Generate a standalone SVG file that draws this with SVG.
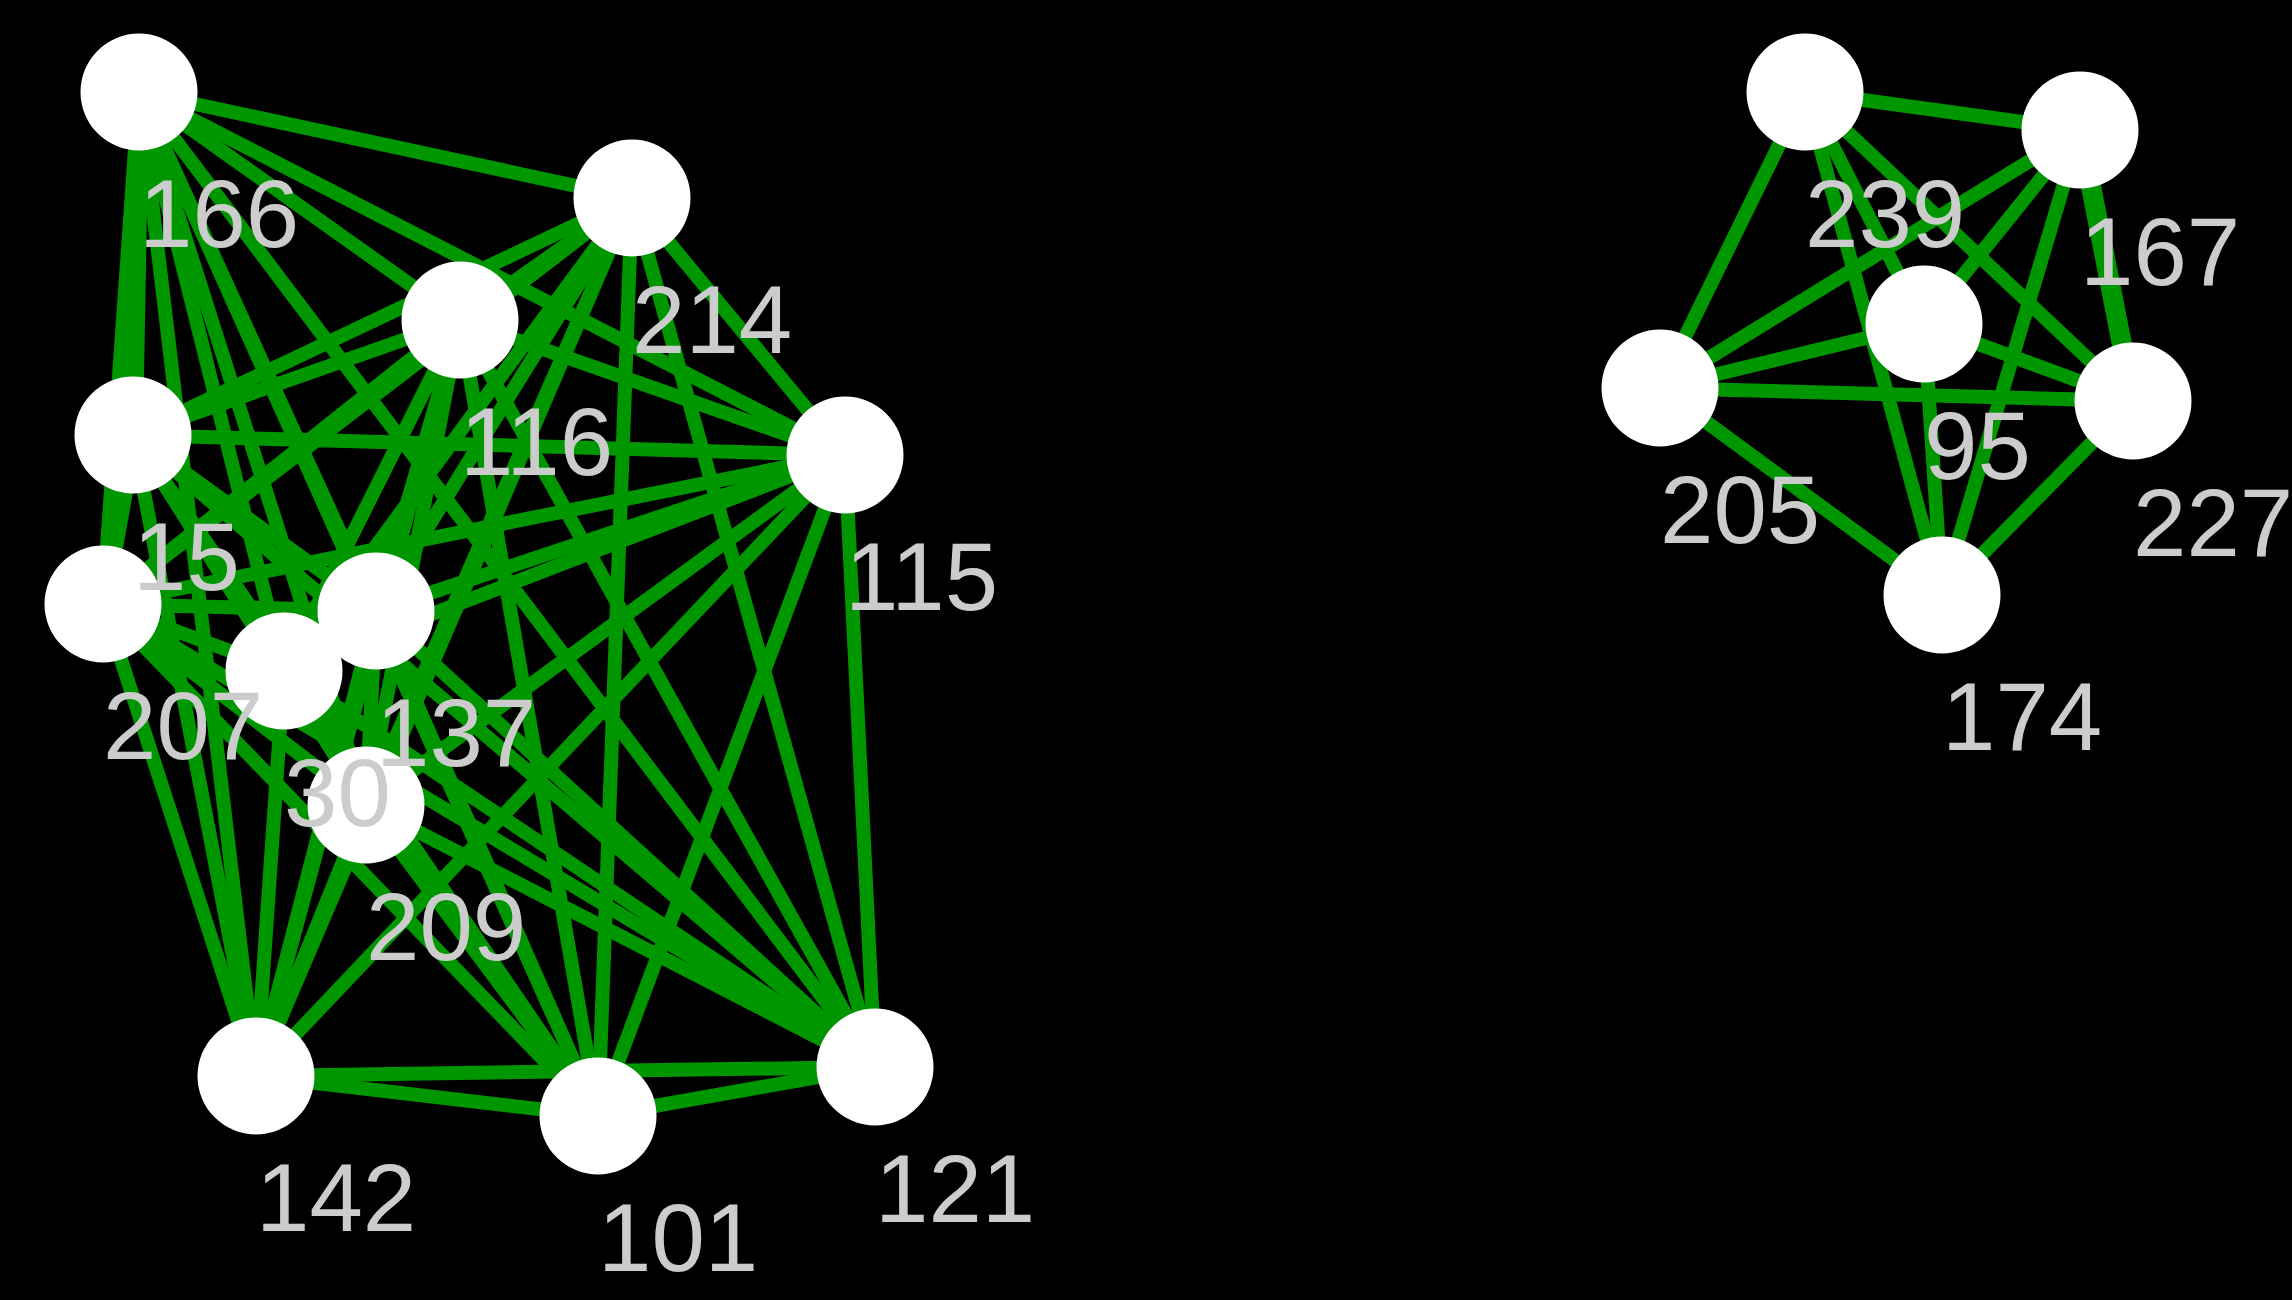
<svg xmlns="http://www.w3.org/2000/svg" width="2292" height="1300" viewBox="0 0 2292 1300">
<style>
.e{stroke:#009600;stroke-width:14;stroke-linecap:butt}
.w{stroke-width:20}
.n{fill:#ffffff}
.t{fill:#cccccc;font-family:"Liberation Sans",Arial,sans-serif;font-size:96px}
</style>
<rect width="2292" height="1300" fill="#000000"/>
<g id="edges">
<line class="e" x1="139" y1="92" x2="632" y2="198"/>
<line class="e" x1="139" y1="92" x2="460" y2="320"/>
<line class="e w" x1="139" y1="92" x2="133" y2="435"/>
<line class="e" x1="139" y1="92" x2="845" y2="455"/>
<line class="e" x1="139" y1="92" x2="103" y2="604"/>
<line class="e" x1="139" y1="92" x2="376" y2="611"/>
<line class="e" x1="139" y1="92" x2="284" y2="671"/>
<line class="e" x1="139" y1="92" x2="366" y2="805"/>
<line class="e" x1="139" y1="92" x2="256" y2="1076"/>
<line class="e" x1="139" y1="92" x2="598" y2="1116"/>
<line class="e" x1="139" y1="92" x2="875" y2="1067"/>
<line class="e" x1="632" y1="198" x2="460" y2="320"/>
<line class="e" x1="632" y1="198" x2="133" y2="435"/>
<line class="e" x1="632" y1="198" x2="845" y2="455"/>
<line class="e" x1="632" y1="198" x2="103" y2="604"/>
<line class="e" x1="632" y1="198" x2="376" y2="611"/>
<line class="e" x1="632" y1="198" x2="284" y2="671"/>
<line class="e" x1="632" y1="198" x2="366" y2="805"/>
<line class="e" x1="632" y1="198" x2="256" y2="1076"/>
<line class="e" x1="632" y1="198" x2="598" y2="1116"/>
<line class="e" x1="632" y1="198" x2="875" y2="1067"/>
<line class="e" x1="460" y1="320" x2="133" y2="435"/>
<line class="e" x1="460" y1="320" x2="845" y2="455"/>
<line class="e" x1="460" y1="320" x2="103" y2="604"/>
<line class="e" x1="460" y1="320" x2="376" y2="611"/>
<line class="e" x1="460" y1="320" x2="284" y2="671"/>
<line class="e" x1="460" y1="320" x2="366" y2="805"/>
<line class="e" x1="460" y1="320" x2="256" y2="1076"/>
<line class="e" x1="460" y1="320" x2="598" y2="1116"/>
<line class="e" x1="460" y1="320" x2="875" y2="1067"/>
<line class="e" x1="133" y1="435" x2="845" y2="455"/>
<line class="e w" x1="133" y1="435" x2="103" y2="604"/>
<line class="e" x1="133" y1="435" x2="376" y2="611"/>
<line class="e" x1="133" y1="435" x2="284" y2="671"/>
<line class="e" x1="133" y1="435" x2="366" y2="805"/>
<line class="e" x1="133" y1="435" x2="256" y2="1076"/>
<line class="e" x1="133" y1="435" x2="598" y2="1116"/>
<line class="e" x1="133" y1="435" x2="875" y2="1067"/>
<line class="e" x1="845" y1="455" x2="103" y2="604"/>
<line class="e" x1="845" y1="455" x2="376" y2="611"/>
<line class="e" x1="845" y1="455" x2="284" y2="671"/>
<line class="e" x1="845" y1="455" x2="366" y2="805"/>
<line class="e" x1="845" y1="455" x2="256" y2="1076"/>
<line class="e" x1="845" y1="455" x2="598" y2="1116"/>
<line class="e" x1="845" y1="455" x2="875" y2="1067"/>
<line class="e" x1="103" y1="604" x2="376" y2="611"/>
<line class="e" x1="103" y1="604" x2="284" y2="671"/>
<line class="e" x1="103" y1="604" x2="366" y2="805"/>
<line class="e" x1="103" y1="604" x2="256" y2="1076"/>
<line class="e" x1="103" y1="604" x2="598" y2="1116"/>
<line class="e" x1="103" y1="604" x2="875" y2="1067"/>
<line class="e" x1="376" y1="611" x2="284" y2="671"/>
<line class="e" x1="376" y1="611" x2="366" y2="805"/>
<line class="e" x1="376" y1="611" x2="256" y2="1076"/>
<line class="e" x1="376" y1="611" x2="598" y2="1116"/>
<line class="e" x1="376" y1="611" x2="875" y2="1067"/>
<line class="e" x1="284" y1="671" x2="366" y2="805"/>
<line class="e" x1="284" y1="671" x2="256" y2="1076"/>
<line class="e" x1="284" y1="671" x2="598" y2="1116"/>
<line class="e" x1="284" y1="671" x2="875" y2="1067"/>
<line class="e" x1="366" y1="805" x2="256" y2="1076"/>
<line class="e" x1="366" y1="805" x2="598" y2="1116"/>
<line class="e" x1="366" y1="805" x2="875" y2="1067"/>
<line class="e" x1="256" y1="1076" x2="598" y2="1116"/>
<line class="e" x1="256" y1="1076" x2="875" y2="1067"/>
<line class="e" x1="598" y1="1116" x2="875" y2="1067"/>
<line class="e" x1="1805" y1="92" x2="2080" y2="130"/>
<line class="e" x1="1805" y1="92" x2="1924" y2="324"/>
<line class="e" x1="1805" y1="92" x2="1660" y2="388"/>
<line class="e" x1="1805" y1="92" x2="2133" y2="401"/>
<line class="e" x1="1805" y1="92" x2="1942" y2="595"/>
<line class="e" x1="2080" y1="130" x2="1924" y2="324"/>
<line class="e" x1="2080" y1="130" x2="1660" y2="388"/>
<line class="e w" x1="2080" y1="130" x2="2133" y2="401"/>
<line class="e" x1="2080" y1="130" x2="1942" y2="595"/>
<line class="e" x1="1924" y1="324" x2="1660" y2="388"/>
<line class="e" x1="1924" y1="324" x2="2133" y2="401"/>
<line class="e" x1="1924" y1="324" x2="1942" y2="595"/>
<line class="e" x1="1660" y1="388" x2="2133" y2="401"/>
<line class="e" x1="1660" y1="388" x2="1942" y2="595"/>
<line class="e" x1="2133" y1="401" x2="1942" y2="595"/>
</g>
<g id="n166"><circle class="n" cx="139" cy="92" r="58.5"/></g>
<g id="n214"><circle class="n" cx="632" cy="198" r="58.5"/></g>
<g id="n116"><circle class="n" cx="460" cy="320" r="58.5"/></g>
<g id="n15"><circle class="n" cx="133" cy="435" r="58.5"/></g>
<g id="n115"><circle class="n" cx="845" cy="455" r="58.5"/></g>
<g id="n207"><circle class="n" cx="103" cy="604" r="58.5"/></g>
<g id="n137"><circle class="n" cx="376" cy="611" r="58.5"/></g>
<g id="n30"><circle class="n" cx="284" cy="671" r="58.5"/></g>
<g id="n209"><circle class="n" cx="366" cy="805" r="58.5"/></g>
<g id="n142"><circle class="n" cx="256" cy="1076" r="58.5"/></g>
<g id="n101"><circle class="n" cx="598" cy="1116" r="58.5"/></g>
<g id="n121"><circle class="n" cx="875" cy="1067" r="58.5"/></g>
<g id="n239"><circle class="n" cx="1805" cy="92" r="58.5"/></g>
<g id="n167"><circle class="n" cx="2080" cy="130" r="58.5"/></g>
<g id="n95"><circle class="n" cx="1924" cy="324" r="58.5"/></g>
<g id="n205"><circle class="n" cx="1660" cy="388" r="58.5"/></g>
<g id="n227"><circle class="n" cx="2133" cy="401" r="58.5"/></g>
<g id="n174"><circle class="n" cx="1942" cy="595" r="58.5"/></g>
<g id="labels">
<text class="t" x="139" y="246.5">166</text>
<text class="t" x="632" y="352.5">214</text>
<text class="t" x="460" y="474.5">116</text>
<text class="t" x="133" y="589.5">15</text>
<text class="t" x="845" y="609.5">115</text>
<text class="t" x="103" y="758.5">207</text>
<text class="t" x="376" y="765.5">137</text>
<text class="t" x="284" y="825.5">30</text>
<text class="t" x="366" y="959.5">209</text>
<text class="t" x="256" y="1230.5">142</text>
<text class="t" x="598" y="1270.5">101</text>
<text class="t" x="875" y="1221.5">121</text>
<text class="t" x="1805" y="246.5">239</text>
<text class="t" x="2080" y="284.5">167</text>
<text class="t" x="1924" y="478.5">95</text>
<text class="t" x="1660" y="542.5">205</text>
<text class="t" x="2133" y="555.5">227</text>
<text class="t" x="1942" y="749.5">174</text>
</g>
</svg>
